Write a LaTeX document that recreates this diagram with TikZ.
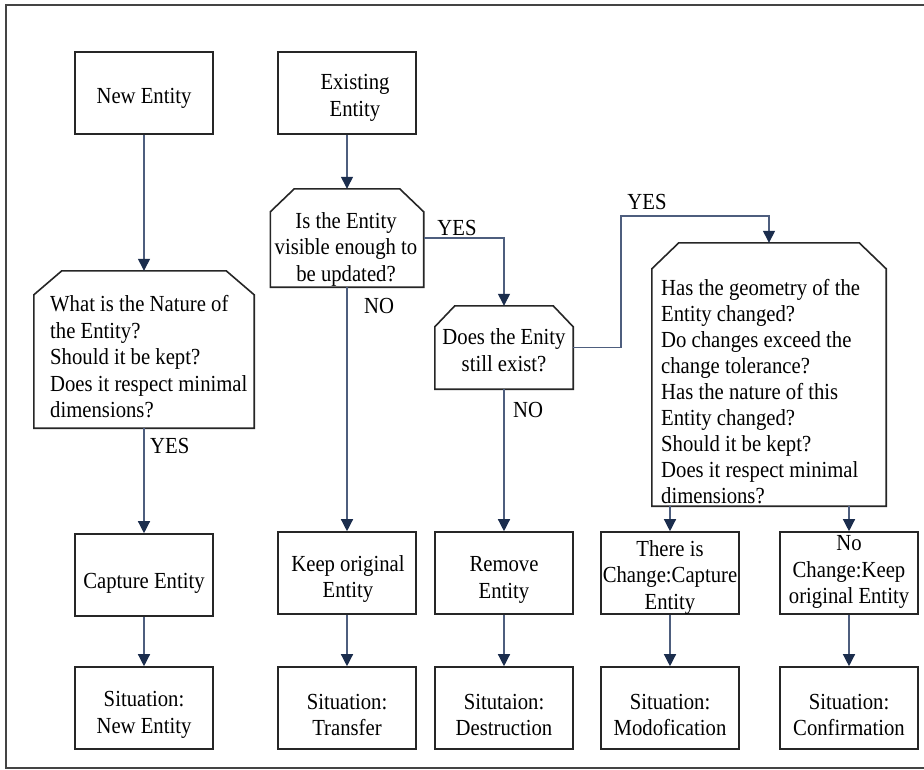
\documentclass[tikz,border=0pt]{standalone}
\usepackage{fontspec}
\setmainfont{Liberation Serif}[FakeStretch=0.9]
\usetikzlibrary{arrows.meta}

\definecolor{linkcol}{HTML}{4E5E7E}
\definecolor{tipcol}{HTML}{1B2D4D}
\definecolor{framecol}{HTML}{444444}

% chamfered outline around a named (invisible) decision node
\newcommand{\decisionoutline}[3]{%
  \draw[outline] ([xshift=#2]#1.north west) -- ([xshift=-#2]#1.north east)
    -- ([yshift=-#3]#1.north east) -- (#1.south east) -- (#1.south west)
    -- ([yshift=-#3]#1.north west) -- cycle;}

% rectangular step: box node #1 at #2, its text #4 offset by #3
\newcommand{\stepbox}[4]{%
  \node[box] (#1) at (#2) {};
  \node[ctext] (#1-text) at ([shift={(#3)}]#1.center) {#4};}

\begin{document}
\begin{tikzpicture}[x=1pt, y=-1pt,
  font=\fontsize{23}{26.5}\selectfont,
  outline/.style={draw=black!85, line width=1.6pt, fill=white},
  box/.style={outline, minimum width=138pt, minimum height=82pt, inner sep=0pt},
  decarea/.style={inner sep=0pt},
  qtext/.style={inner sep=0pt, align=left},
  ctext/.style={inner sep=0pt, align=center},
  link/.style={draw=linkcol, line width=1.3pt,
    -{Triangle[width=12pt,length=12pt,color=tipcol]}},
  lbl/.style={inner sep=0pt}]

\useasboundingbox (0,0) rectangle (924,769);
\fill[white] (0,0) rectangle (924,769);

% frame
\draw[framecol, line width=2pt] (924,5) -- (6,5) -- (6,768) -- (924,768);

% start boxes
\stepbox{ne}{144,93}{0,5}{New Entity}
\stepbox{ee}{347,93}{8,5}{Existing\\Entity}

% decisions
\node[decarea, minimum width=220pt, minimum height=157pt] (dn) at (144,349.5) {};
\decisionoutline{dn}{28pt}{24pt}
\node[qtext, anchor=west] (dnt) at (50,357)
  {What is the Nature of\\the Entity?\\Should it be kept?\\Does it respect minimal\\dimensions?};

\node[decarea, minimum width=153pt, minimum height=98pt] (d1) at (347,238) {};
\decisionoutline{d1}{24pt}{23pt}
\node[ctext] (d1t) at (346,249) {Is the Entity\\visible enough to\\be updated?};

\node[decarea, minimum width=138pt, minimum height=83pt] (d2) at (504,347.5) {};
\decisionoutline{d2}{20pt}{21pt}
\node[ctext] (d2t) at (504,350) {Does the Enity\\still exist?};

\node[decarea, minimum width=234pt, minimum height=263pt] (d3) at (769,374.5) {};
\decisionoutline{d3}{27pt}{26pt}
\node[qtext, anchor=west, font=\fontsize{23}{26}\selectfont] (d3t) at (661,392)
  {Has the geometry of the\\Entity changed?\\Do changes exceed the\\change tolerance?\\Has the nature of this\\Entity changed?\\Should it be kept?\\Does it respect minimal\\dimensions?};

% action boxes
\stepbox{ce}{144,575}{0,8}{Capture Entity}
\stepbox{ko}{347,573}{1,6}{Keep original\\Entity}
\stepbox{re}{504,573}{0,7}{Remove\\Entity}
\stepbox{tc}{670,573}{0,4}{There is\\Change:Capture\\Entity}
\stepbox{nc}{849,573}{0,-1}{No\\Change:Keep\\original Entity}

% situation boxes
\stepbox{sn}{144,708}{0,7}{Situation:\\New Entity}
\stepbox{st}{347,708}{0,7}{Situation:\\Transfer}
\stepbox{sd}{504,708}{0,7}{Situtaion:\\Destruction}
\stepbox{sm}{670,708}{0,7}{Situation:\\Modofication}
\stepbox{sc}{849,708}{0,7}{Situation:\\Confirmation}

% connectors
\coordinate (bendA) at (621,216);
\draw[link] (ne.south) -- (dn.north);
\draw[link] (ee.south) -- (d1.north);
\draw[link] (dn.south) -- (ce.north);
\draw[link] (d1.south) -- (ko.north);
\draw[link] (d1.east) -| (d2.north);
\draw[link] (d2.east) -| (bendA) -| (d3.north);
\draw[link] (d2.south) -- (re.north);
\draw[link] (tc.north |- d3.south) -- (tc.north);
\draw[link] (nc.north |- d3.south) -- (nc.north);
\draw[link] (ce.south) -- (sn.north);
\draw[link] (ko.south) -- (st.north);
\draw[link] (re.south) -- (sd.north);
\draw[link] (tc.south) -- (sm.north);
\draw[link] (nc.south) -- (sc.north);

% branch labels
\node[lbl, anchor=west] (l1) at (150,446) {YES};
\node[lbl] (l2) at (379,306) {NO};
\node[lbl] (l3) at (457,228) {YES};
\node[lbl] (l4) at (647,202) {YES};
\node[lbl] (l5) at (528,410) {NO};
\end{tikzpicture}
\end{document}
